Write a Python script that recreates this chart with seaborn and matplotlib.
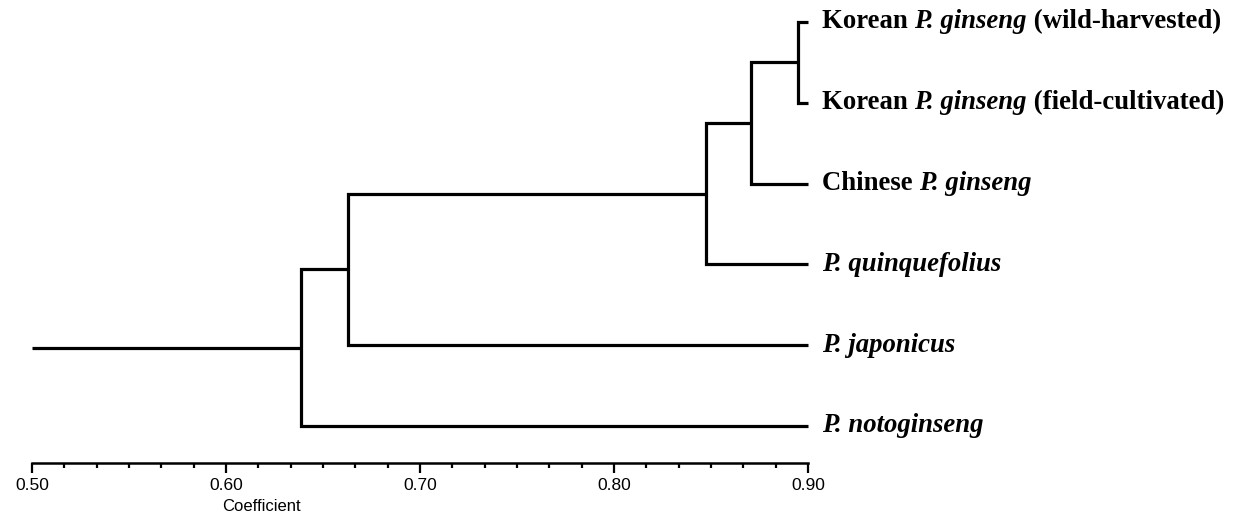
import numpy as np
import pandas as pd
import matplotlib
matplotlib.use('Agg')
import matplotlib.pyplot as plt
from matplotlib.ticker import MultipleLocator
import seaborn as sns

# leaf labels, split into (bold, bold-italic, bold) pieces
leaf_pre = ['Korean ', 'Korean ', 'Chinese ', '', '', '']
leaf_ital = ['P. ginseng', 'P. ginseng', 'P. ginseng', 'P. quinquefolius', 'P. japonicus', 'P. notoginseng']
leaf_post = [' (wild-harvested)', ' (field-cultivated)', '', '', '', '']

# linkage: (child a, child b, coefficient); ids >= 6 refer to earlier merges
merge_a = [0, 6, 7, 8, 9]
merge_b = [1, 2, 3, 4, 5]
merge_h = [0.8948, 0.8706, 0.8473, 0.6630, 0.6385]
leaf_h = 0.90
root_start = 0.50

sns.set_style('white')
plt.rcParams['font.family'] = ['Liberation Sans', 'DejaVu Sans']
plt.rcParams['text.color'] = 'black'
plt.rcParams['axes.labelcolor'] = 'black'
plt.rcParams['xtick.color'] = 'black'

# build the segments of the dendrogram
n = len(leaf_ital)
pos = {i: (leaf_h, float(i)) for i in range(n)}
rows = []
for k, (a, b, h) in enumerate(zip(merge_a, merge_b, merge_h)):
    xa, ya = pos[a]
    xb, yb = pos[b]
    for j, (x, y) in enumerate([(xa, ya), (h, ya), (h, yb), (xb, yb)]):
        rows.append({'seg': k, 'order': j, 'x': x, 'y': y})
    pos[n + k] = (h, (ya + yb) / 2)
xr, yr = pos[n + len(merge_h) - 1]
rows.append({'seg': len(merge_h), 'order': 0, 'x': root_start, 'y': yr})
rows.append({'seg': len(merge_h), 'order': 1, 'x': xr, 'y': yr})
df = pd.DataFrame(rows)

fig = plt.figure(figsize=(12.38, 5.18), dpi=100)
ax = fig.add_axes([32 / 1238, 1 - 463 / 518, 776 / 1238, (463 - 10) / 518])

sns.lineplot(data=df, x='x', y='y', units='seg', estimator=None, sort=False,
             color='black', linewidth=2.3, ax=ax, legend=False)
for l in ax.lines:
    l.set_clip_on(False)
    l.set_solid_joinstyle('miter')
    l.set_solid_capstyle('butt')

ax.set_xlim(0.50, 0.90)
ax.set_ylim(5 + 37 / 80.8, -12 / 80.8)
ax.set_yticks([])
ax.set_ylabel('')
for s in ['top', 'right', 'left']:
    ax.spines[s].set_visible(False)
ax.spines['bottom'].set_linewidth(1.8)
ax.spines['bottom'].set_color('black')
ax.xaxis.set_major_locator(MultipleLocator(0.1))
ax.xaxis.set_minor_locator(MultipleLocator(0.1 / 6))
ax.xaxis.set_major_formatter(matplotlib.ticker.FormatStrFormatter('%.2f'))
ax.tick_params(axis='x', which='major', direction='out', length=7, width=1.6,
               color='black', labelsize=12.5, labelcolor='black', pad=4, bottom=True)
ax.tick_params(axis='x', which='minor', direction='out', length=3.5, width=1.6,
               color='black', bottom=True)
ax.set_xlabel('Coefficient', fontsize=12, color='black')
ax.xaxis.set_label_coords((261 - 32) / 776, -0.08)

# leaf labels with mixed bold / bold italic text
serif = 'Liberation Serif'
fs = 19.3
for i in range(n):
    pieces = [(leaf_pre[i], 'normal'), (leaf_ital[i], 'italic'), (leaf_post[i], 'normal')]
    pieces = [p for p in pieces if p[0]]
    t = None
    for txt, style in pieces:
        if t is None:
            t = ax.annotate(txt, xy=(leaf_h, i), xytext=(10, 0), textcoords='offset points',
                            va='center', ha='left', fontsize=fs, fontweight='bold',
                            fontstyle=style, family=serif, color='black',
                            annotation_clip=False)
        else:
            t = ax.annotate(txt, xycoords=t, xy=(1, 0), va='bottom', fontsize=fs,
                            fontweight='bold', fontstyle=style, family=serif, color='black')

fig.savefig('out.png', dpi=100)
